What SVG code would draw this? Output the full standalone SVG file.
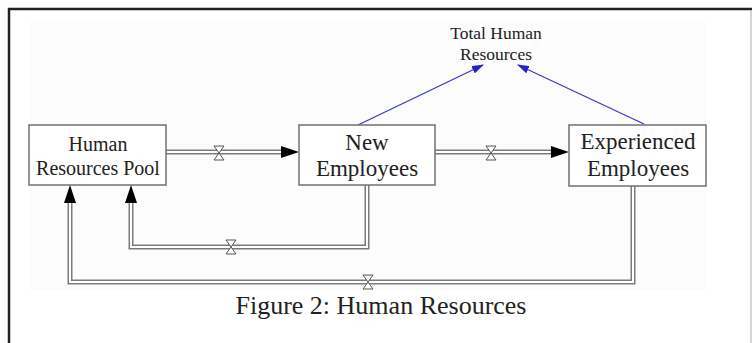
<svg xmlns="http://www.w3.org/2000/svg" width="752" height="343" viewBox="0 0 752 343">
  <style>
    .box { fill: #ffffff; stroke: #707070; stroke-width: 1.5; }
    .lbl { font-family: "Liberation Serif", "Times New Roman", serif; fill: #222; text-anchor: middle; }
    .pipe-out { fill: none; stroke: #7a7a7a; stroke-width: 5; stroke-linejoin: miter; }
    .pipe-in { fill: none; stroke: #ffffff; stroke-width: 2; stroke-linejoin: miter; }
    .valve { fill: #ffffff; stroke: #555; stroke-width: 1; stroke-linejoin: miter; }
    .info { fill: none; stroke: #3a3ac8; stroke-width: 1.3; }
  </style>
  <defs>
    <marker id="flowhead" markerUnits="userSpaceOnUse" markerWidth="18" markerHeight="12" refX="0" refY="6" orient="auto" viewBox="0 0 18 12">
      <path d="M0,0 L18,6 L0,12 z" fill="#000"/>
    </marker>
    <marker id="bluehead" markerUnits="userSpaceOnUse" markerWidth="12" markerHeight="8" refX="11" refY="4" orient="auto" viewBox="0 0 12 8">
      <path d="M0,0 L12,4 L0,8 z" fill="#2323c8"/>
    </marker>
  </defs>

  <rect width="752" height="343" fill="#ffffff"/>
  <rect x="30" y="20" width="676" height="270" fill="#fcfcfc"/>
  <path d="M9,343 V9 H752" fill="none" stroke="#222" stroke-width="2.5"/>
  <line x1="751" y1="10" x2="751" y2="343" stroke="#aaa" stroke-width="1"/>

  <g id="connectors">
    <path class="pipe-out" d="M166,152 H281" marker-end="url(#flowhead)"/>
    <path class="pipe-in" d="M166,152 H281"/>
    <path class="pipe-out" d="M435,152 H551" marker-end="url(#flowhead)"/>
    <path class="pipe-in" d="M435,152 H551"/>
    <path class="pipe-out" d="M367,185 V247 H131 V203" marker-end="url(#flowhead)"/>
    <path class="pipe-in" d="M367,185 V247 H131 V203"/>
    <path class="pipe-out" d="M633,186 V282 H70 V203" marker-end="url(#flowhead)"/>
    <path class="pipe-in" d="M633,186 V282 H70 V203"/>
    <polygon class="valve" points="214,146 224,146 214,160 224,160"/>
    <polygon class="valve" points="486,146 496,146 486,160 496,160"/>
    <polygon class="valve" points="226,240 236,240 226,254 236,254"/>
    <polygon class="valve" points="363,275 373,275 363,289 373,289"/>
    <line class="info" x1="358" y1="125" x2="483" y2="65" marker-end="url(#bluehead)"/>
    <line class="info" x1="644" y1="124" x2="518" y2="65" marker-end="url(#bluehead)"/>
  </g>

  <g id="hr-pool">
    <rect class="box" x="29" y="125" width="137" height="60"/>
    <text class="lbl" x="98" y="151" font-size="20">Human</text>
    <text class="lbl" x="98" y="175" font-size="20">Resources Pool</text>
  </g>
  <g id="new-employees">
    <rect class="box" x="299" y="125" width="136" height="60"/>
    <text class="lbl" x="367" y="150" font-size="23">New</text>
    <text class="lbl" x="367" y="176" font-size="23">Employees</text>
  </g>
  <g id="experienced-employees">
    <rect class="box" x="569" y="125" width="137" height="61"/>
    <text class="lbl" x="638" y="149" font-size="23">Experienced</text>
    <text class="lbl" x="638" y="176" font-size="23">Employees</text>
  </g>
  <g id="total-hr">
    <text class="lbl" x="496" y="39" font-size="17.5">Total Human</text>
    <text class="lbl" x="496" y="60" font-size="17.5">Resources</text>
  </g>
  <text class="lbl" x="381" y="314" font-size="26">Figure 2: Human Resources</text>
</svg>
